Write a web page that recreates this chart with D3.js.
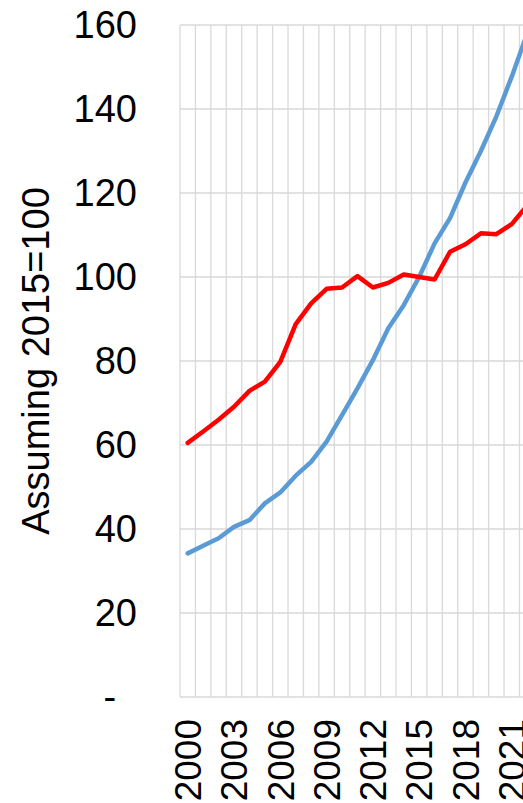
<!DOCTYPE html>
<html>
<head>
<meta charset="utf-8">
<script src="https://cdn.jsdelivr.net/npm/d3@7"></script>
<style>
  html, body { margin: 0; padding: 0; background: #fff; overflow: hidden; }
  svg { display: block; font-family: "Liberation Sans", Arial, sans-serif; }
</style>
</head>
<body>
<div id="chart"></div>
<script>
// Data (index, 2015 = 100)
const years = d3.range(2000, 2023);
const blueSeries = [34.2, 36.0, 37.8, 40.5, 42.1, 46.1, 48.7, 52.7, 56.0, 60.8, 67.1, 73.5,
                    80.2, 87.8, 93.3, 100.0, 108.0, 114.0, 122.5, 130.0, 138.2, 147.7, 158.0];
const redSeries  = [60.5, 63.2, 66.0, 69.1, 72.9, 75.1, 79.8, 88.8, 93.7, 97.2, 97.5, 100.2,
                    97.5, 98.6, 100.6, 100.0, 99.4, 106.0, 107.8, 110.4, 110.2, 112.6, 117.0];
const yTicks = [0, 20, 40, 60, 80, 100, 120, 140, 160];
const xLabelYears = [2000, 2003, 2006, 2009, 2012, 2015, 2018, 2021];
const yTitle = "Assuming 2015=100";

// Layout
const width = 560, height = 803;
const plot = { left: 180, top: 25, bottom: 697, cell: 15.43 };
const fontSize = 38;
const xFontSize = 37;
const gridColor = "#d9d9d9";

const svg = d3.select("#chart").append("svg")
  .attr("width", width)
  .attr("height", height);

const x = d3.scaleBand()
  .domain(years)
  .range([plot.left, plot.left + plot.cell * years.length])
  .padding(0);

const y = d3.scaleLinear()
  .domain([0, 160])
  .range([plot.bottom, plot.top]);

// Gridlines: vertical at category boundaries, horizontal at ticks
const xEdges = years.map(d => x(d)).concat([x.range()[1]]);
svg.append("g")
  .selectAll("line")
  .data(xEdges)
  .enter().append("line")
  .attr("x1", d => d).attr("x2", d => d)
  .attr("y1", plot.top).attr("y2", plot.bottom)
  .attr("stroke", gridColor)
  .attr("stroke-width", 1.3);

svg.append("g")
  .selectAll("line")
  .data(yTicks)
  .enter().append("line")
  .attr("x1", plot.left).attr("x2", x.range()[1])
  .attr("y1", d => y(d)).attr("y2", d => y(d))
  .attr("stroke", gridColor)
  .attr("stroke-width", 1.3);

// Y axis labels
const yAxisG = svg.append("g")
  .attr("transform", `translate(${plot.left - 43},0)`)
  .call(d3.axisLeft(y).tickValues(yTicks).tickSize(0).tickPadding(0)
    .tickFormat(d => d === 0 ? "-" : d));
yAxisG.select(".domain").remove();
yAxisG.selectAll("text")
  .style("font-size", fontSize + "px")
  .attr("fill", "#000")
  .attr("dx", d => d === 0 ? "-0.55em" : 0);

// Y title
svg.append("text")
  .attr("transform", `translate(49,${(plot.top + plot.bottom) / 2}) rotate(-90)`)
  .attr("text-anchor", "middle")
  .style("font-size", fontSize + "px")
  .attr("fill", "#000")
  .text(yTitle);

// X labels (rotated)
svg.append("g")
  .selectAll("text")
  .data(xLabelYears)
  .enter().append("text")
  .attr("transform", d => `translate(${x(d) + x.bandwidth() / 2},${plot.bottom + 22}) rotate(-90)`)
  .attr("text-anchor", "end")
  .attr("dy", "0.36em")
  .style("font-size", xFontSize + "px")
  .attr("fill", "#000")
  .text(d => d);

// Lines
const line = d3.line()
  .x((d, i) => x(years[i]) + x.bandwidth() / 2)
  .y(d => y(d));

svg.append("path")
  .datum(blueSeries)
  .attr("fill", "none")
  .attr("stroke", "#5b9bd5")
  .attr("stroke-width", 4.5)
  .attr("stroke-linejoin", "round")
  .attr("stroke-linecap", "round")
  .attr("d", line);

svg.append("path")
  .datum(redSeries)
  .attr("fill", "none")
  .attr("stroke", "#ff0000")
  .attr("stroke-width", 4.5)
  .attr("stroke-linejoin", "round")
  .attr("stroke-linecap", "round")
  .attr("d", line);
</script>
</body>
</html>
